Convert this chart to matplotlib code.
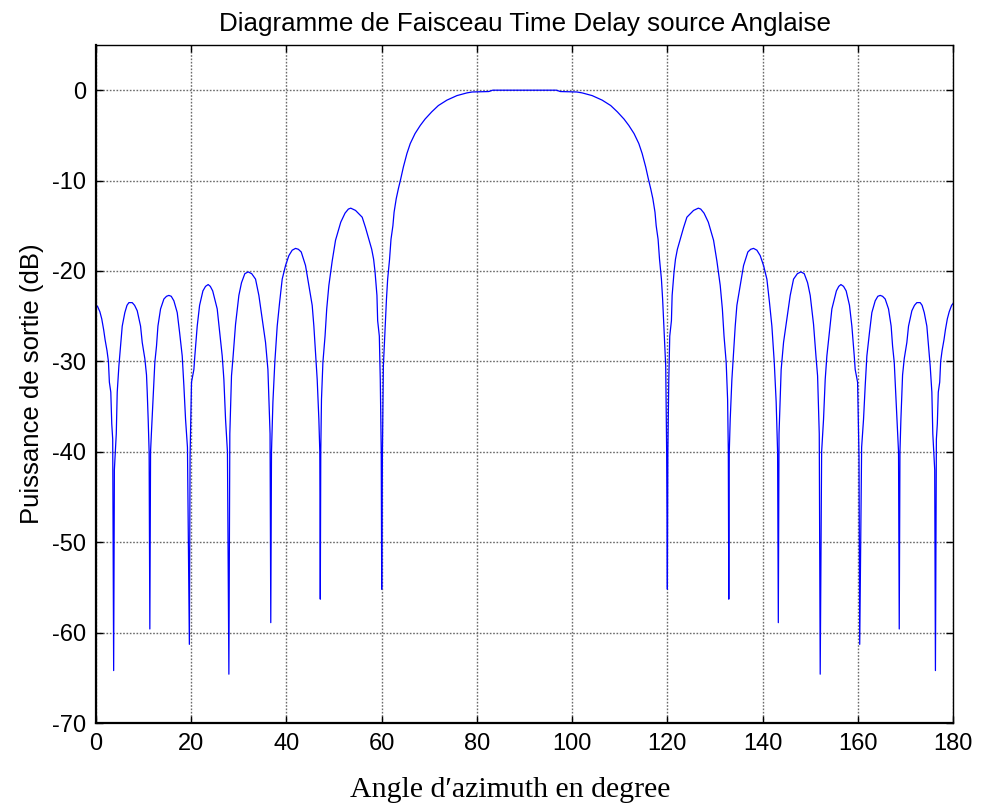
import matplotlib
matplotlib.use("Agg")
import matplotlib.pyplot as plt

# Beam pattern (time-delay beamformer), output power in dB versus azimuth angle
angle_left = [
    0.0, 0.3, 0.8, 1.2, 1.6, 1.9, 2.3, 2.6, 2.8, 3.1, 3.3, 3.5, 3.7, 3.85,
    4.25, 4.45, 4.8, 5.15, 5.5, 6.05, 6.5, 6.9, 7.6, 8.1, 8.65, 9.35, 9.7,
    10.25, 10.6, 10.75, 10.95, 11.15, 11.3, 11.45, 11.65, 12.0, 12.35, 12.7,
    13.0, 13.55, 14.25, 14.8, 15.3, 15.8, 16.35, 17.05, 17.55, 18.1, 18.45,
    18.8, 19.2, 19.6, 19.75, 20.05, 20.55, 20.75, 21.25, 21.75, 22.45, 23.0,
    23.55, 24.0, 24.5, 25.45, 25.9, 26.5, 26.85, 27.2, 27.6, 27.9, 28.1,
    28.45, 28.75, 29.3, 30.0, 30.55, 31.25, 31.95, 32.7, 33.5, 34.2, 34.9,
    35.6, 36.1, 36.3, 36.55, 36.7, 36.85, 37.15, 37.55, 38.05, 38.55, 39.1,
    39.8, 40.5, 41.2, 41.9, 42.5, 43.1, 44.0, 44.7, 45.4, 45.75, 46.1, 46.45,
    46.8, 47.0, 47.1, 47.2, 47.35, 47.65, 48.1, 48.45, 48.9, 49.6, 50.3,
    51.4, 52.3, 53.0, 53.5, 54.5, 55.9, 56.6, 57.3, 57.9, 58.3, 58.6, 59.0,
    59.15, 59.5, 59.7, 59.9, 60.0, 60.15, 60.35, 60.8, 61.0, 61.25, 61.65,
    61.95, 62.35, 62.6, 63.05, 63.5, 64.0, 64.55, 65.3, 66.0, 67.0, 68.1,
    69.1, 70.5, 71.9, 73.7, 75.8, 77.9, 79.0, 82.5, 83.3, 90.0,
]
power_left = [
    -23.8, -23.9, -24.5, -25.3, -26.5, -27.6, -28.8, -30.0, -32.3, -33.4,
    -36.9, -38.6, -64.2, -42.0, -38.0, -33.4, -30.5, -28.3, -26.1, -24.6,
    -23.8, -23.5, -23.5, -23.8, -24.4, -26.1, -27.9, -29.7, -31.5, -33.4,
    -36.4, -40.0, -59.6, -40.0, -37.7, -34.0, -30.1, -28.3, -26.1, -24.2,
    -23.1, -22.8, -22.7, -22.8, -23.3, -24.6, -26.8, -29.4, -32.7, -36.4,
    -39.5, -61.3, -40.5, -32.3, -30.9, -29.4, -26.1, -23.8, -22.2, -21.7,
    -21.5, -21.7, -22.2, -24.2, -26.4, -29.4, -32.0, -36.4, -40.0, -64.6,
    -38.0, -31.6, -29.7, -25.9, -22.7, -21.3, -20.3, -20.1, -20.3, -20.9,
    -22.7, -25.3, -27.9, -30.9, -34.2, -38.0, -58.9, -40.0, -34.5, -30.1,
    -26.1, -23.5, -20.9, -19.4, -18.3, -17.7, -17.5, -17.6, -17.9, -19.4,
    -21.6, -23.8, -26.1, -29.0, -32.0, -36.4, -40.0, -56.3, -40.0, -34.2,
    -30.1, -27.2, -24.2, -21.6, -18.9, -16.6, -14.6, -13.6, -13.15, -13.05,
    -13.3, -14.05, -15.2, -16.5, -17.6, -18.7, -20.1, -22.7, -25.5, -27.2,
    -32.0, -40.0, -55.2, -40.0, -30.5, -25.3, -23.1, -20.9, -18.7, -16.5,
    -15.0, -13.5, -12.0, -10.9, -9.8, -8.5, -7.0, -5.9, -4.8, -3.9, -3.2,
    -2.4, -1.7, -1.1, -0.6, -0.3, -0.2, -0.15, 0.0, 0.0,
]
angle_right = [
    96.7, 97.5, 101.0, 102.1, 104.2, 106.3, 108.1, 109.5, 110.9, 111.9,
    113.0, 114.0, 114.7, 115.45, 116.0, 116.5, 116.95, 117.4, 117.65, 118.05,
    118.35, 118.75, 119.0, 119.2, 119.65, 119.85, 120.0, 120.1, 120.3, 120.5,
    120.85, 121.0, 121.4, 121.7, 122.1, 122.7, 123.4, 124.1, 125.5, 126.5,
    127.0, 127.7, 128.6, 129.7, 130.4, 131.1, 131.55, 131.9, 132.35, 132.65,
    132.8, 132.9, 133.0, 133.2, 133.55, 133.9, 134.25, 134.6, 135.3, 136.0,
    136.9, 137.5, 138.1, 138.8, 139.5, 140.2, 140.9, 141.45, 141.95, 142.45,
    142.85, 143.15, 143.3, 143.45, 143.7, 143.9, 144.4, 145.1, 145.8, 146.5,
    147.3, 148.05, 148.75, 149.45, 150.0, 150.7, 151.25, 151.55, 151.9,
    152.1, 152.4, 152.8, 153.15, 153.5, 154.1, 154.55, 155.5, 156.0, 156.45,
    157.0, 157.55, 158.25, 158.75, 159.25, 159.45, 159.95, 160.25, 160.4,
    160.8, 161.2, 161.55, 161.9, 162.45, 162.95, 163.65, 164.2, 164.7, 165.2,
    165.75, 166.45, 167.0, 167.3, 167.65, 168.0, 168.35, 168.55, 168.7,
    168.85, 169.05, 169.25, 169.4, 169.75, 170.3, 170.65, 171.35, 171.9,
    172.4, 173.1, 173.5, 173.95, 174.5, 174.85, 175.2, 175.55, 175.75,
    176.15, 176.3, 176.5, 176.7, 176.9, 177.2, 177.4, 177.7, 178.1, 178.4,
    178.8, 179.2, 179.7, 180.0,
]
power_right = [
    0.0, -0.15, -0.2, -0.3, -0.6, -1.1, -1.7, -2.4, -3.2, -3.9, -4.8, -5.9,
    -7.0, -8.5, -9.8, -10.9, -12.0, -13.5, -15.0, -16.5, -18.7, -20.9, -23.1,
    -25.3, -30.5, -40.0, -55.2, -40.0, -32.0, -27.2, -25.5, -22.7, -20.1,
    -18.7, -17.6, -16.5, -15.2, -14.05, -13.3, -13.05, -13.15, -13.6, -14.6,
    -16.6, -18.9, -21.6, -24.2, -27.2, -30.1, -34.2, -40.0, -56.3, -40.0,
    -36.4, -32.0, -29.0, -26.1, -23.8, -21.6, -19.4, -17.9, -17.6, -17.5,
    -17.7, -18.3, -19.4, -20.9, -23.5, -26.1, -30.1, -34.5, -40.0, -58.9,
    -38.0, -34.2, -30.9, -27.9, -25.3, -22.7, -20.9, -20.3, -20.1, -20.3,
    -21.3, -22.7, -25.9, -29.7, -31.6, -38.0, -64.6, -40.0, -36.4, -32.0,
    -29.4, -26.4, -24.2, -22.2, -21.7, -21.5, -21.7, -22.2, -23.8, -26.1,
    -29.4, -30.9, -32.3, -40.5, -61.3, -39.5, -36.4, -32.7, -29.4, -26.8,
    -24.6, -23.3, -22.8, -22.7, -22.8, -23.1, -24.2, -26.1, -28.3, -30.1,
    -34.0, -37.7, -40.0, -59.6, -40.0, -36.4, -33.4, -31.5, -29.7, -27.9,
    -26.1, -24.4, -23.8, -23.5, -23.5, -23.8, -24.6, -26.1, -28.3, -30.5,
    -33.4, -38.0, -42.0, -64.2, -38.6, -36.9, -33.4, -32.3, -30.0, -28.8,
    -27.6, -26.5, -25.3, -24.5, -23.8, -23.6,
]

angle_deg = angle_left + angle_right
power_db = power_left + power_right

x_ticks = [0, 20, 40, 60, 80, 100, 120, 140, 160, 180]
y_ticks = [-70, -60, -50, -40, -30, -20, -10, 0]

plt.rcParams["axes.unicode_minus"] = False
sans = ["Liberation Sans", "DejaVu Sans"]
serif = ["Liberation Serif", "DejaVu Serif"]

fig = plt.figure(figsize=(9.81, 8.09), dpi=100)
ax = fig.add_axes([0.0979, 0.1063, 0.8736, 0.8381])

ax.plot(angle_deg, power_db, color="#0000ff", linewidth=0.9)

ax.set_xlim(0, 180)
ax.set_ylim(-70, 5)
ax.set_xticks(x_ticks)
ax.set_yticks(y_ticks)
ax.set_xticklabels([str(v) for v in x_ticks], fontfamily=sans, fontsize=17)
ax.set_yticklabels([str(v) for v in y_ticks], fontfamily=sans, fontsize=17)

ax.grid(True, color="0.42", linestyle=(0, (1.2, 1.2)), linewidth=1.0)
ax.tick_params(direction="in", length=5, width=1.0, top=True, right=True,
               pad=7, colors="black")

for side in ("left", "bottom"):
    ax.spines[side].set_linewidth(1.6)
for side in ("top", "right"):
    ax.spines[side].set_linewidth(1.0)

ax.set_title("Diagramme de Faisceau Time Delay source Anglaise",
             fontfamily=sans, fontsize=18.7, pad=10)
ax.set_xlabel("Angle d\u2032azimuth en degree", fontfamily=serif,
              fontsize=21.5, labelpad=16)
ax.xaxis.label.set_x(0.483)
ax.set_ylabel("Puissance de sortie (dB)", fontfamily=sans, fontsize=18.5,
              labelpad=6)

fig.savefig("out.png", dpi=100)
